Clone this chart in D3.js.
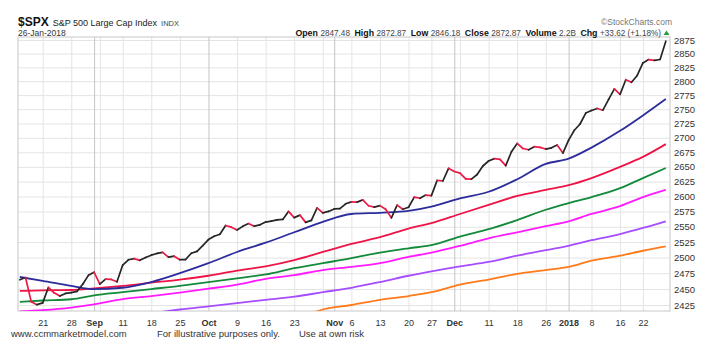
<!DOCTYPE html>
<html lang="en">
<head>
  <meta charset="UTF-8" />
  <title>$SPX S&amp;P 500 Large Cap Index</title>
  <script src="https://d3js.org/d3.v7.min.js"></script>
  <style>
    html, body {
      margin: 0;
      padding: 0;
      background: #fff;
    }
    svg {
      display: block;
      font-family: "Liberation Sans", Arial, sans-serif;
    }
  </style>
</head>
<body>
<svg width="707" height="352"></svg>
<script>
  // trading days, 15-Aug-2017 .. 26-Jan-2018
  const dates = [
    "2017-08-15","2017-08-16","2017-08-17","2017-08-18","2017-08-21","2017-08-22","2017-08-23","2017-08-24","2017-08-25",
    "2017-08-28","2017-08-29","2017-08-30","2017-08-31","2017-09-01","2017-09-05","2017-09-06","2017-09-07","2017-09-08",
    "2017-09-11","2017-09-12","2017-09-13","2017-09-14","2017-09-15","2017-09-18","2017-09-19","2017-09-20","2017-09-21",
    "2017-09-22","2017-09-25","2017-09-26","2017-09-27","2017-09-28","2017-09-29","2017-10-02","2017-10-03","2017-10-04",
    "2017-10-05","2017-10-06","2017-10-09","2017-10-10","2017-10-11","2017-10-12","2017-10-13","2017-10-16","2017-10-17",
    "2017-10-18","2017-10-19","2017-10-20","2017-10-23","2017-10-24","2017-10-25","2017-10-26","2017-10-27","2017-10-30",
    "2017-10-31","2017-11-01","2017-11-02","2017-11-03","2017-11-06","2017-11-07","2017-11-08","2017-11-09","2017-11-10",
    "2017-11-13","2017-11-14","2017-11-15","2017-11-16","2017-11-17","2017-11-20","2017-11-21","2017-11-22","2017-11-24",
    "2017-11-27","2017-11-28","2017-11-29","2017-11-30","2017-12-01","2017-12-04","2017-12-05","2017-12-06","2017-12-07",
    "2017-12-08","2017-12-11","2017-12-12","2017-12-13","2017-12-14","2017-12-15","2017-12-18","2017-12-19","2017-12-20",
    "2017-12-21","2017-12-22","2017-12-26","2017-12-27","2017-12-28","2017-12-29","2018-01-02","2018-01-03","2018-01-04",
    "2018-01-05","2018-01-08","2018-01-09","2018-01-10","2018-01-11","2018-01-12","2018-01-16","2018-01-17","2018-01-18",
    "2018-01-19","2018-01-22","2018-01-23","2018-01-24","2018-01-25","2018-01-26"
  ];

  const closes = [
    2464.61,2468.11,2430.01,2425.55,2428.37,2452.51,2444.04,2438.97,2443.05,
    2444.24,2446.30,2457.59,2471.65,2476.55,2457.85,2465.54,2465.10,2461.43,
    2488.11,2496.48,2498.37,2495.62,2500.23,2503.87,2506.65,2508.24,2500.60,
    2502.22,2496.66,2496.84,2507.04,2510.06,2519.36,2529.12,2534.58,2537.74,
    2552.07,2549.33,2544.73,2550.64,2555.24,2550.93,2553.17,2557.64,2559.36,
    2561.26,2562.10,2575.21,2564.98,2569.13,2557.15,2560.40,2581.07,2572.83,
    2575.26,2579.36,2579.85,2587.84,2591.13,2590.64,2594.38,2584.62,2582.30,
    2584.84,2578.87,2564.62,2585.64,2578.85,2582.14,2599.03,2597.08,2602.42,
    2601.42,2627.04,2626.07,2647.58,2642.22,2639.44,2629.57,2629.27,2636.98,
    2651.50,2659.99,2664.11,2662.85,2652.01,2675.81,2690.16,2681.47,2679.25,
    2684.57,2683.34,2680.50,2682.62,2687.54,2673.61,2695.81,2713.06,2723.99,
    2743.15,2747.71,2751.29,2748.23,2767.56,2786.24,2776.42,2802.56,2798.03,
    2810.30,2832.97,2839.13,2837.54,2839.25,2872.87
  ];

  const maDates = [
    "2017-08-15","2017-08-21","2017-08-28","2017-09-01","2017-09-11","2017-09-18","2017-09-25","2017-10-02","2017-10-09",
    "2017-10-16","2017-10-23","2017-10-30","2017-11-06","2017-11-13","2017-11-20","2017-11-27","2017-12-04","2017-12-11",
    "2017-12-18","2017-12-26","2018-01-02","2018-01-08","2018-01-16","2018-01-22","2018-01-26"
  ];
  const maBlue = [2469,2463,2455,2450,2452,2461,2475,2491,2509,2524,2541,2558,2571,2573,2576,2583,2597,2608,2629,2655,2664,2683,2712,2739,2768];
  const maRed = [2447,2448,2448.5,2451,2455,2460,2465,2471,2479,2486,2496,2509,2522,2533,2547,2556,2571,2586,2601,2611,2619,2631,2650,2667,2689];
  const maGreen = [2430,2432,2434,2440,2445,2450,2455,2461,2467,2473,2483,2491,2499,2508,2515,2520,2534,2546,2561,2578,2589,2599,2614,2631,2648];
  const maMagenta = [2415,2417,2421,2426,2434,2439,2444.5,2450.5,2457,2466,2472,2480,2485,2491,2501,2508,2519,2531,2541,2551,2559,2571,2584,2599,2611];
  const maPurple = [null,null,null,null,null,2412,2418,2423,2428,2433,2438,2445,2452,2461,2471,2478,2486,2493,2503,2512,2519,2528,2538,2548,2559];
  const maOrange = [null,null,null,null,null,null,null,null,null,null,2400,2418,2425,2433,2439,2445,2457,2465,2474,2480,2485,2495,2503,2511,2518];

  const tickDates = [
    "2017-08-21","2017-08-28","2017-09-01","2017-09-05","2017-09-11","2017-09-18","2017-09-25","2017-10-02","2017-10-09",
    "2017-10-16","2017-10-23","2017-10-30","2017-11-01","2017-11-06","2017-11-13","2017-11-20","2017-11-27","2017-12-01",
    "2017-12-04","2017-12-11","2017-12-18","2017-12-26","2018-01-02","2018-01-08","2018-01-16","2018-01-22"
  ];
  const tickLabels = ["21","28","Sep","","11","18","25","Oct","9","16","23","","Nov","6","13","20","27","Dec","","11","18","26","2018","8","16","22"];
  const monthTicks = ["2017-09-01","2017-10-02","2017-11-01","2017-12-01","2018-01-02"];

  const yTicks = [2425,2450,2475,2500,2525,2550,2575,2600,2625,2650,2675,2700,2725,2750,2775,2800,2825,2850,2875];

  const maSeries = [
    { values: maOrange, color: "#ff7a1a" },
    { values: maPurple, color: "#a64dff" },
    { values: maMagenta, color: "#ff1aff" },
    { values: maGreen, color: "#128a3a" },
    { values: maRed, color: "#ee1446" },
    { values: maBlue, color: "#2c2c9c" }
  ];

  const svg = d3.select("svg");
  const plot = { left: 18, right: 670, top: 37, bottom: 311 };

  const x = d3.scalePoint().domain(dates).range([19.8, 665.8]);
  const y = d3.scaleLog().domain([2425, 2875]).range([305, 40]);

  svg.append("clipPath").attr("id", "clip")
    .append("rect")
    .attr("x", plot.left).attr("y", plot.top)
    .attr("width", plot.right - plot.left).attr("height", plot.bottom - plot.top);

  // grid
  svg.append("g")
    .attr("transform", `translate(${plot.left},0)`)
    .call(d3.axisRight(y).tickValues(yTicks).tickSize(plot.right - plot.left).tickFormat(""))
    .call(g => g.select(".domain").remove())
    .call(g => g.selectAll("line").attr("stroke", "#e4e4e4"));

  svg.append("g")
    .attr("transform", `translate(0,${plot.top})`)
    .call(d3.axisBottom(x).tickValues(tickDates).tickSize(plot.bottom - plot.top).tickFormat(""))
    .call(g => g.select(".domain").remove())
    .call(g => g.selectAll("line")
      .attr("stroke", d => monthTicks.includes(d) ? "#c4c4c4" : "#e4e4e4"));

  svg.append("rect")
    .attr("x", plot.left).attr("y", plot.top)
    .attr("width", plot.right - plot.left).attr("height", plot.bottom - plot.top)
    .attr("fill", "none").attr("stroke", "#c8c8c8");

  const chart = svg.append("g").attr("clip-path", "url(#clip)");

  const maLine = d3.line()
    .defined(d => d[1] != null)
    .x(d => x(d[0]))
    .y(d => y(d[1]))
    .curve(d3.curveMonotoneX);

  chart.selectAll("path.ma")
    .data(maSeries).join("path")
    .attr("class", "ma")
    .attr("d", s => maLine(maDates.map((dt, i) => [dt, s.values[i]])))
    .attr("fill", "none")
    .attr("stroke", s => s.color)
    .attr("stroke-width", 1.8)
    .attr("stroke-linejoin", "round");

  // price: black when up, red when down
  const segs = d3.pairs(closes.map((c, i) => [dates[i], c]));
  chart.selectAll("line.px")
    .data(segs).join("line")
    .attr("class", "px")
    .attr("x1", d => x(d[0][0])).attr("y1", d => y(d[0][1]))
    .attr("x2", d => x(d[1][0])).attr("y2", d => y(d[1][1]))
    .attr("stroke", d => d[1][1] < d[0][1] ? "#ec1a45" : "#262626")
    .attr("stroke-width", 1.7)
    .attr("stroke-linecap", "round");

  // right axis labels
  svg.append("g")
    .attr("transform", `translate(${plot.right},0)`)
    .call(d3.axisRight(y).tickValues(yTicks).tickSize(0).tickPadding(4).tickFormat(d3.format("d")))
    .call(g => g.select(".domain").remove())
    .call(g => g.selectAll("text").attr("fill", "#333").attr("font-size", 9.5).attr("font-family", null));

  // bottom labels
  const labelOf = new Map(tickDates.map((d, i) => [d, tickLabels[i]]));
  svg.append("g")
    .attr("transform", `translate(0,${plot.bottom})`)
    .call(d3.axisBottom(x).tickValues(tickDates).tickSize(0).tickPadding(9).tickFormat(d => labelOf.get(d)))
    .call(g => g.select(".domain").remove())
    .call(g => g.selectAll("text")
      .attr("fill", "#333")
      .attr("font-size", 9)
      .attr("font-family", null)
      .attr("font-weight", d => monthTicks.includes(d) ? "bold" : "normal"));

  // header
  const title = svg.append("text").attr("x", 18).attr("y", 26).attr("fill", "#111");
  title.append("tspan").attr("font-size", 12).attr("font-weight", "bold").text("$SPX");
  title.append("tspan").attr("font-size", 9).attr("dx", 4).attr("fill", "#222").text("S&P 500 Large Cap Index");
  title.append("tspan").attr("font-size", 7.5).attr("dx", 4).attr("fill", "#444").text("INDX");

  svg.append("text").attr("x", 18).attr("y", 35.5)
    .attr("font-size", 8.5).attr("fill", "#333").text("26-Jan-2018");

  svg.append("text").attr("x", 672).attr("y", 25)
    .attr("text-anchor", "end").attr("font-size", 8.5).attr("fill", "#777")
    .text("\u00a9StockCharts.com");

  const quote = [
    ["Open", "2847.48"], ["High", "2872.87"], ["Low", "2846.18"],
    ["Close", "2872.87"], ["Volume", "2.2B"], ["Chg", "+33.62 (+1.18%)"]
  ];
  const info = svg.append("text").attr("x", 661).attr("y", 35.5)
    .attr("text-anchor", "end").attr("font-size", 8.8);
  quote.forEach((q, i) => {
    info.append("tspan").attr("dx", i ? 4.5 : 0).attr("font-weight", "bold").attr("fill", "#111").text(q[0]);
    info.append("tspan").attr("dx", 2.5).attr("fill", "#444").attr("font-size", 8.2).text(q[1]);
  });
  svg.append("path")
    .attr("d", "M663.5,35 L669.5,35 L666.5,30.5 Z")
    .attr("fill", "#2a9a3a");

  // footer
  const footer = svg.append("g").attr("font-size", 9.5).attr("fill", "#333");
  footer.append("text").attr("x", 11).attr("y", 337).text("www.ccmmarketmodel.com");
  footer.append("text").attr("x", 157).attr("y", 337).text("For illustrative purposes only.");
  footer.append("text").attr("x", 299).attr("y", 337).text("Use at own risk");
</script>
</body>
</html>
